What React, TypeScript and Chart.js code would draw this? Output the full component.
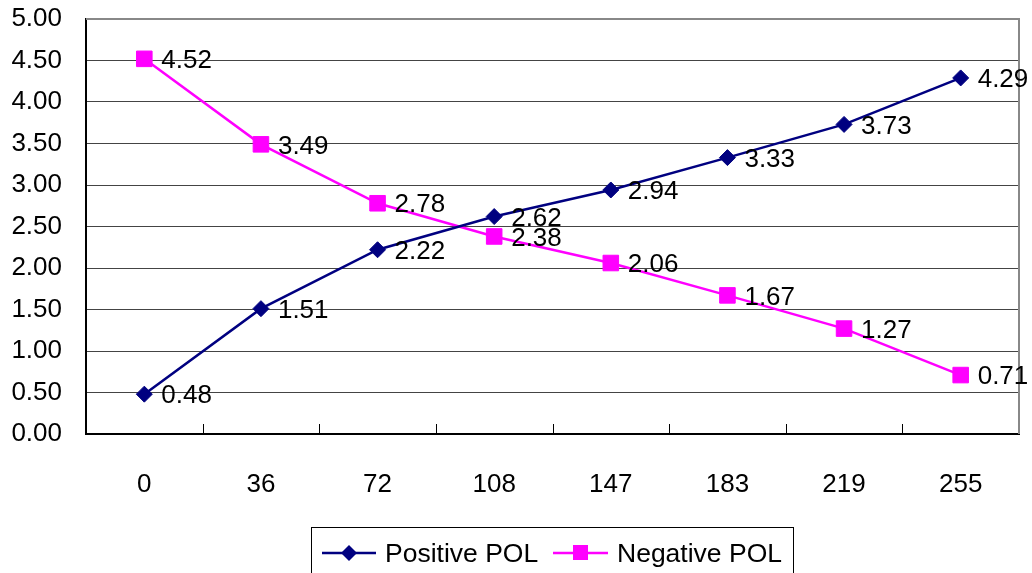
import React, { useEffect, useRef } from "react";
import Chart from "chart.js/auto";

const categories = ["0", "36", "72", "108", "147", "183", "219", "255"];
const positivePOL = [0.48, 1.51, 2.22, 2.62, 2.94, 3.33, 3.73, 4.29];
const negativePOL = [4.52, 3.49, 2.78, 2.38, 2.06, 1.67, 1.27, 0.71];
const seriesNames = ["Positive POL", "Negative POL"];

const FONT = "'Liberation Sans', Arial, sans-serif";
const NAVY = "#000080";
const MAGENTA = "#FF00FF";

const extrasPlugin = {
  id: "extras",
  beforeDatasetsDraw(chart: any) {
    const { ctx, chartArea } = chart;
    const xs = chart.scales.x;
    ctx.save();
    ctx.strokeStyle = "#000";
    ctx.lineWidth = 1;
    const n = categories.length;
    for (let i = 1; i < n; i++) {
      const x = Math.round((xs.getPixelForValue(i - 1) + xs.getPixelForValue(i)) / 2) + 0.5;
      ctx.beginPath();
      ctx.moveTo(x, chartArea.bottom);
      ctx.lineTo(x, chartArea.bottom - 10);
      ctx.stroke();
    }
    ctx.strokeStyle = "#888";
    ctx.lineWidth = 2;
    ctx.beginPath();
    ctx.moveTo(chartArea.left, chartArea.top);
    ctx.lineTo(chartArea.right, chartArea.top);
    ctx.lineTo(chartArea.right, chartArea.bottom);
    ctx.stroke();
    ctx.restore();
  },
  afterDatasetsDraw(chart: any) {
    const { ctx } = chart;
    ctx.save();
    ctx.font = `26px ${FONT}`;
    ctx.fillStyle = "#000";
    ctx.textAlign = "left";
    ctx.textBaseline = "middle";
    chart.data.datasets.forEach((ds: any, di: number) => {
      const meta = chart.getDatasetMeta(di);
      meta.data.forEach((pt: any, i: number) => {
        ctx.fillText(Number(ds.data[i]).toFixed(2), pt.x + 17, pt.y + 2);
      });
    });
    ctx.restore();
  },
  afterDraw(chart: any) {
    const { ctx } = chart;
    ctx.save();
    ctx.strokeStyle = "#000";
    ctx.lineWidth = 1;
    ctx.strokeRect(311.5, 527.5, 482, 60);
    const cy = 553;
    ctx.lineWidth = 2.5;
    ctx.strokeStyle = NAVY;
    ctx.beginPath();
    ctx.moveTo(322, cy);
    ctx.lineTo(376, cy);
    ctx.stroke();
    ctx.fillStyle = NAVY;
    ctx.beginPath();
    ctx.moveTo(349, cy - 8);
    ctx.lineTo(357, cy);
    ctx.lineTo(349, cy + 8);
    ctx.lineTo(341, cy);
    ctx.closePath();
    ctx.fill();
    ctx.strokeStyle = MAGENTA;
    ctx.beginPath();
    ctx.moveTo(553, cy);
    ctx.lineTo(608, cy);
    ctx.stroke();
    ctx.fillStyle = MAGENTA;
    ctx.fillRect(573, cy - 8, 15, 15);
    ctx.fillStyle = "#000";
    ctx.font = `26.5px ${FONT}`;
    ctx.textAlign = "left";
    ctx.textBaseline = "middle";
    ctx.fillText(seriesNames[0], 385, cy + 2);
    ctx.fillText(seriesNames[1], 617, cy + 2);
    ctx.restore();
  },
};

export default function App() {
  const ref = useRef<HTMLCanvasElement>(null);
  useEffect(() => {
    if (!ref.current) return;
    const chart = new Chart(ref.current, {
      type: "line",
      data: {
        labels: categories,
        datasets: [
          {
            label: seriesNames[0],
            data: positivePOL,
            borderColor: NAVY,
            backgroundColor: NAVY,
            borderWidth: 2.5,
            pointStyle: "rectRot",
            pointRadius: 8,
            pointBorderWidth: 1,
            pointBackgroundColor: NAVY,
            pointBorderColor: NAVY,
            tension: 0,
          },
          {
            label: seriesNames[1],
            data: negativePOL,
            borderColor: MAGENTA,
            backgroundColor: MAGENTA,
            borderWidth: 2.5,
            pointStyle: "rect",
            pointRadius: 11,
            pointBorderWidth: 1,
            pointBackgroundColor: MAGENTA,
            pointBorderColor: MAGENTA,
            tension: 0,
          },
        ],
      },
      options: {
        animation: false,
        responsive: false,
        devicePixelRatio: 1,
        layout: { padding: { left: 0, right: 13, top: 19, bottom: 0 } },
        plugins: {
          legend: { display: false },
          tooltip: { enabled: false },
        },
        scales: {
          x: {
            type: "category",
            offset: true,
            grid: { display: true, drawOnChartArea: false, drawTicks: false, color: "rgba(0,0,0,0)" },
            border: { display: true, color: "#000", width: 2 },
            ticks: { color: "#000", font: { family: FONT, size: 26 }, padding: 35, maxRotation: 0, autoSkip: false },
            afterFit: (s: any) => {
              s.height = 139;
              s.paddingLeft = 0;
              s.paddingRight = 0;
            },
          },
          y: {
            min: 0,
            max: 5,
            grid: { color: "#444", lineWidth: 1, drawTicks: false },
            border: { display: true, color: "#000", width: 2 },
            ticks: {
              stepSize: 0.5,
              color: "#000",
              font: { family: FONT, size: 26 },
              padding: 24,
              callback: (v: any) => Number(v).toFixed(2),
            },
            afterFit: (s: any) => {
              s.width = 86;
              s.paddingTop = 0;
              s.paddingBottom = 0;
            },
          },
        },
      },
      plugins: [extrasPlugin],
    });
    return () => chart.destroy();
  }, []);
  return (
    <div style={{ position: "absolute", left: 0, top: 0, width: 1032, height: 573, background: "#fff" }}>
      <canvas ref={ref} width={1032} height={573} />
    </div>
  );
}
